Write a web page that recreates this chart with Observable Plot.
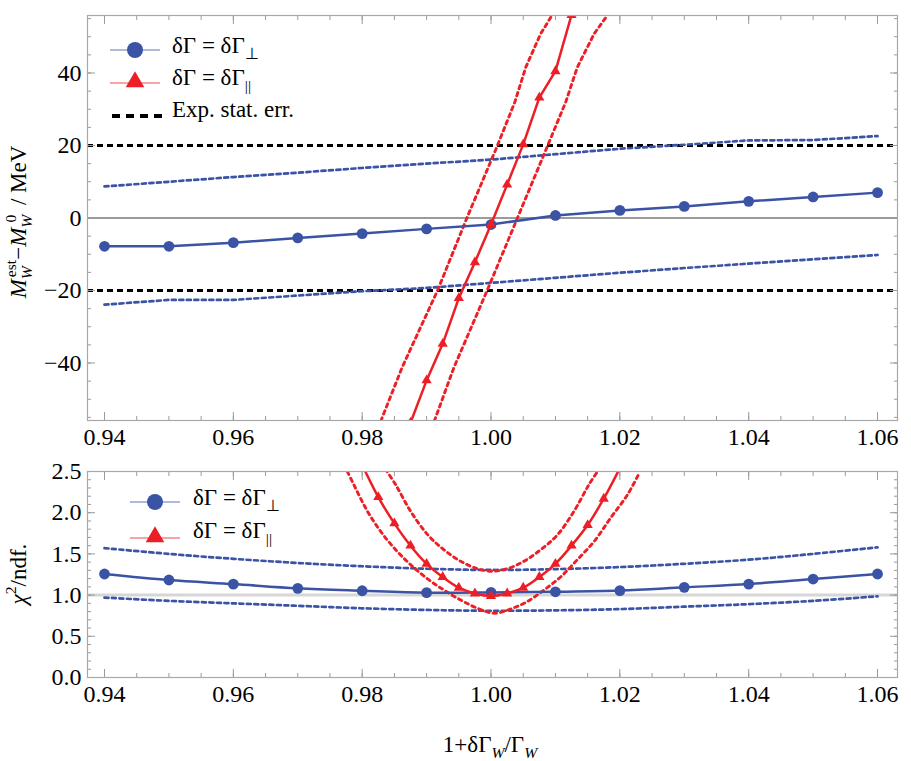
<!DOCTYPE html>
<html><head><meta charset="utf-8">
<script src="https://cdn.jsdelivr.net/npm/d3@7"></script>
<script src="https://cdn.jsdelivr.net/npm/@observablehq/plot@0.6"></script>
<style>body{margin:0;background:#fff} #chart svg{display:block} #chart svg text, #chart svg tspan{font-family:"Liberation Serif",serif !important; font-variant:normal !important}</style>
</head><body><div id="chart"></div>
<script>
// ---------- data ----------
const xGrid = [0.94,0.95,0.96,0.97,0.98,0.99,1.00,1.01,1.02,1.03,1.04,1.05,1.06];
// top panel: M_W^est - M_W^0 (MeV)
const massShiftPerp   = [-7.8,-7.8,-6.8,-5.5,-4.3,-3.0,-1.8,0.7,2.1,3.2,4.6,5.8,7.0];
const massShiftPerpUp = [8.7,10.0,11.3,12.5,13.8,15.0,16.1,17.6,19.1,20.2,21.4,21.5,22.6];
const massShiftPerpLo = [-23.9,-22.6,-22.6,-21.4,-20.2,-19.3,-17.9,-16.5,-15.1,-13.8,-12.6,-11.4,-10.2];
const xPar          = [0.9875,0.99,0.9925,0.995,0.9975,1.0,1.0025,1.005,1.0075,1.01,1.0125];
const massShiftPar  = [-56.5,-44.8,-34.7,-22.1,-12.2,-1.8,9.2,20.3,33.2,40.5,56.0];
const parBandHiX = [0.9829,0.9862,0.9917,0.9963,1.0010,1.0037,1.0054,1.0077,1.0095];
const parBandHiY = [-56,-41.2,-20,0.2,20,32,41.6,50.8,56];
const parBandLoX = [0.9912,0.99425,0.9994,1.0041,1.0088,1.0116,1.0134,1.0160,1.0181];
const parBandLoY = [-56,-41.2,-20,0,20,32,41.6,50.8,56];
const statErr = [20,-20];
// bottom panel: chi^2 / ndf
const chiPerp   = [1.256,1.183,1.134,1.082,1.053,1.030,1.033,1.040,1.055,1.094,1.134,1.195,1.256];
const chiPerpUp = [1.57,1.50,1.44,1.39,1.35,1.32,1.305,1.315,1.34,1.38,1.43,1.50,1.58];
const chiPerpLo = [0.97,0.93,0.90,0.87,0.84,0.82,0.81,0.815,0.83,0.86,0.89,0.93,0.985];
const xParChi = [0.9825,0.985,0.9875,0.99,0.9925,0.995,0.9975,1.0,1.0025,1.005,1.0075,1.01,1.0125,1.015,1.0175];
const chiPar  = [2.19,1.87,1.60,1.38,1.22,1.09,1.02,0.99,1.02,1.09,1.22,1.38,1.60,1.85,2.17];
const chiParCurveX = [0.98,0.9825,0.985,0.9875,0.99,0.9925,0.995,0.9975,1.0,1.0025,1.005,1.0075,1.01,1.0125,1.015,1.0175,1.02];
const chiParCurveY = [2.58,2.19,1.87,1.60,1.38,1.22,1.09,1.02,0.99,1.02,1.09,1.22,1.38,1.60,1.85,2.17,2.54];
const chiParUpX = [0.9836,0.9852,0.9875,0.9902,0.9927,0.9953,0.9979,1.0002,1.0025,1.0051,1.0077,1.0103,1.0129,1.0152,1.0168];
const chiParUpY = [2.53,2.34,2.02,1.73,1.55,1.41,1.32,1.29,1.32,1.41,1.55,1.73,2.02,2.34,2.53];
const chiParLoX = [0.9777,0.9787,0.9808,0.9829,0.9852,0.9875,0.9901,0.9927,0.9953,0.9979,1.0005,1.0030,1.0056,1.0082,1.0108,1.0134,1.0160,1.0186,1.0212,1.0230];
const chiParLoY = [2.50,2.34,2.02,1.77,1.55,1.37,1.20,1.06,0.94,0.84,0.78,0.83,0.92,1.06,1.22,1.43,1.65,1.94,2.22,2.48];
const chiRef = [1.0];
// ticks
const xMajor = [0.94,0.96,0.98,1.00,1.02,1.04,1.06];
const xMinor = d3.range(0,25).map(i => +(0.94 + i*0.005).toFixed(3));
const yTopMajor = [-40,-20,0,20,40];
const yTopMinor = d3.range(-55,56,5);
const yBotMajor = [0,0.5,1.0,1.5,2.0,2.5];
const yBotMinor = d3.range(0,26).map(i => +(i*0.1).toFixed(1));

// ---------- style ----------
const FONT = "Liberation Serif";
const FS = 24;
const BLUE = "#3a53a4", RED = "#ec1f27", TICK = "#9a9a9a";
const xDomain = [0.93736, 1.0631];

const zip = (xs, ys) => xs.map((x, i) => ({x, y: ys[i]}));
const topPerp = zip(xGrid, massShiftPerp), topPerpUp = zip(xGrid, massShiftPerpUp), topPerpLo = zip(xGrid, massShiftPerpLo);
const topPar = zip(xPar, massShiftPar), topParHi = zip(parBandHiX, parBandHiY), topParLo = zip(parBandLoX, parBandLoY);
const botPerp = zip(xGrid, chiPerp), botPerpUp = zip(xGrid, chiPerpUp), botPerpLo = zip(xGrid, chiPerpLo);
const botPar = zip(xParChi, chiPar), botParCurve = zip(chiParCurveX, chiParCurveY);
const botParUp = zip(chiParUpX, chiParUpY), botParLo = zip(chiParLoX, chiParLoY);

function frameAxes(yMajor, yMinor, yFmt) {
  const common = {label: null, stroke: TICK, tickFormat: () => ""};
  const txt = {fontFamily: FONT, fontSize: FS, fontVariant: "normal", label: null, tickSize: 0, fill: "#000"};
  return [
    Plot.axisX(xMajor, {...common, anchor: "bottom", tickSize: -8}),
    Plot.axisX(xMinor, {...common, anchor: "bottom", tickSize: -4}),
    Plot.axisX(xMajor, {...common, anchor: "top", tickSize: -8}),
    Plot.axisX(xMinor, {...common, anchor: "top", tickSize: -4}),
    Plot.axisY(yMajor, {...common, anchor: "left", tickSize: -8}),
    Plot.axisY(yMinor, {...common, anchor: "left", tickSize: -4}),
    Plot.axisY(yMajor, {...common, anchor: "right", tickSize: -8}),
    Plot.axisY(yMinor, {...common, anchor: "right", tickSize: -4}),
    Plot.axisX(xMajor, {...txt, anchor: "bottom", tickPadding: 7, tickFormat: d3.format(".2f")}),
    Plot.axisY(yMajor, {...txt, anchor: "left", tickPadding: 6, tickFormat: yFmt}),
    Plot.frame({stroke: "#a8a8a8", strokeWidth: 1.2})
  ];
}

const plotStyle = `font-family: "Liberation Serif", serif; font-size: ${FS}px; background: #fff; color: #000; overflow: visible;`;
const dotBlue = {stroke: BLUE, strokeWidth: 2.7, strokeDasharray: "4,3.5"};
const dotRed = {stroke: RED, strokeWidth: 2.9, strokeDasharray: "3.5,4"};

const topPlot = Plot.plot({
  width: 911, height: 460,
  marginLeft: 87, marginRight: 14, marginTop: 15, marginBottom: 40,
  x: {domain: xDomain},
  y: {domain: [-55.86, 55.86]},
  style: plotStyle,
  marks: [
    Plot.ruleY([0], {stroke: "#7a7a7a", strokeWidth: 1.3}),
    Plot.ruleY(statErr, {stroke: "#000", strokeWidth: 3, strokeDasharray: "6,4"}),
    Plot.line(topPerpUp, {x: "x", y: "y", ...dotBlue}),
    Plot.line(topPerpLo, {x: "x", y: "y", ...dotBlue}),
    Plot.line(topParHi, {x: "x", y: "y", ...dotRed, clip: true}),
    Plot.line(topParLo, {x: "x", y: "y", ...dotRed, clip: true}),
    Plot.line(topPerp, {x: "x", y: "y", stroke: BLUE, strokeWidth: 2.5}),
    Plot.dot(topPerp, {x: "x", y: "y", r: 5.4, fill: BLUE}),
    Plot.line(topPar, {x: "x", y: "y", stroke: RED, strokeWidth: 2.5, clip: true}),
    Plot.dot(topPar, {x: "x", y: "y", r: 3.8, symbol: "triangle", fill: RED, clip: true}),
    ...frameAxes(yTopMajor, yTopMinor, d3.format("d"))
  ]
});

const botPlot = Plot.plot({
  width: 911, height: 301,
  marginLeft: 87, marginRight: 14, marginTop: 11, marginBottom: 84,
  x: {domain: xDomain},
  y: {domain: [0, 2.5]},
  style: plotStyle,
  marks: [
    Plot.ruleY(chiRef, {stroke: "#d6d6d6", strokeWidth: 3}),
    Plot.line(botPerpUp, {x: "x", y: "y", ...dotBlue, curve: "catmull-rom"}),
    Plot.line(botPerpLo, {x: "x", y: "y", ...dotBlue, curve: "catmull-rom"}),
    Plot.line(botParUp, {x: "x", y: "y", ...dotRed, curve: "catmull-rom", clip: true}),
    Plot.line(botParLo, {x: "x", y: "y", ...dotRed, curve: "catmull-rom", clip: true}),
    Plot.line(botPerp, {x: "x", y: "y", stroke: BLUE, strokeWidth: 2.5, curve: "catmull-rom"}),
    Plot.dot(botPerp, {x: "x", y: "y", r: 5.4, fill: BLUE}),
    Plot.line(botParCurve, {x: "x", y: "y", stroke: RED, strokeWidth: 2.5, curve: "catmull-rom", clip: true}),
    Plot.dot(botPar, {x: "x", y: "y", r: 3.8, symbol: "triangle", fill: RED, clip: true}),
    ...frameAxes(yBotMajor, yBotMinor, d3.format(".1f"))
  ]
});

// ---------- text helpers ----------
function richText(svg, {x, y, rotate = 0, anchor = "start", parts, size = FS}) {
  const t = d3.select(svg).append("text")
    .attr("transform", `translate(${x},${y}) rotate(${rotate})`)
    .attr("text-anchor", anchor)
    .attr("font-size", size).attr("fill", "#000");
  let shift = 0;
  for (const p of parts) {
    const sp = t.append("tspan").text(p.t);
    const target = p.sub ? size * 0.28 : p.sup ? -size * 0.42 : 0;
    sp.attr("dy", target - shift); shift = target;
    if (p.sub || p.sup) sp.attr("font-size", size * 0.68);
    if (p.it) sp.attr("font-style", "italic");
    if (p.dx) sp.attr("dx", p.dx);
  }
  return t;
}
function legendRow(svg, {x0, y, kind, color, label, textX, baseline}) {
  const g = d3.select(svg).append("g");
  if (kind === "dash") {
    g.append("line").attr("x1", x0 + 2).attr("x2", x0 + 52).attr("y1", y).attr("y2", y)
      .attr("stroke", "#000").attr("stroke-width", 4).attr("stroke-dasharray", "8,6");
  } else {
    g.append("line").attr("x1", x0).attr("x2", x0 + 50).attr("y1", y).attr("y2", y)
      .attr("stroke", color).attr("stroke-width", 1.2).attr("opacity", 0.8);
    if (kind === "circle") g.append("circle").attr("cx", x0 + 25).attr("cy", y).attr("r", 8).attr("fill", color);
    else g.append("path").attr("d", d3.symbol(d3.symbolTriangle, 150)()).attr("transform", `translate(${x0 + 25},${y - 1})`).attr("fill", color);
  }
  richText(svg, {x: textX, y: baseline, parts: label, size: 23});
}
const perpLabel = [{t: "δΓ = δΓ"}, {t: "⊥", sub: true}];
const parLabel = [{t: "δΓ = δΓ"}, {t: "||", sub: true}];

// top legend
legendRow(topPlot, {x0: 110, y: 50, kind: "circle", color: BLUE, label: perpLabel, textX: 172, baseline: 53});
legendRow(topPlot, {x0: 110, y: 83, kind: "triangle", color: RED, label: parLabel, textX: 172, baseline: 85});
legendRow(topPlot, {x0: 110, y: 116, kind: "dash", label: [{t: "Exp. stat. err."}], textX: 172, baseline: 117});
// bottom legend
legendRow(botPlot, {x0: 130, y: 42, kind: "circle", color: BLUE, label: perpLabel, textX: 193, baseline: 45});
legendRow(botPlot, {x0: 130, y: 78, kind: "triangle", color: RED, label: parLabel, textX: 193, baseline: 78});

// axis labels (superscripts stacked over the W subscripts)
richText(topPlot, {x: 26, y: 222, rotate: -90, anchor: "middle", size: 23, parts: [
  {t: "M", it: true}, {t: "W", it: true, sub: true}, {t: "est", sup: true, dx: -11},
  {t: "−"}, {t: "M", it: true}, {t: "W", it: true, sub: true}, {t: "0", sup: true, dx: -8}, {t: " / MeV", dx: 4}]});
richText(botPlot, {x: 26, y: 114, rotate: -90, anchor: "middle", size: 23, parts: [
  {t: "χ", it: true}, {t: "2", sup: true}, {t: "/ndf."}]});
richText(botPlot, {x: 490, y: 292, anchor: "middle", size: 23, parts: [
  {t: "1+δΓ"}, {t: "W", it: true, sub: true}, {t: "/Γ"}, {t: "W", it: true, sub: true}]});

for (const svg of [topPlot, botPlot]) {
  d3.select(svg).selectAll("text, tspan")
    .style("font-family", `"${FONT}", serif`).style("font-variant", "normal");
}

document.getElementById("chart").append(topPlot, botPlot);
</script>
</body></html>
